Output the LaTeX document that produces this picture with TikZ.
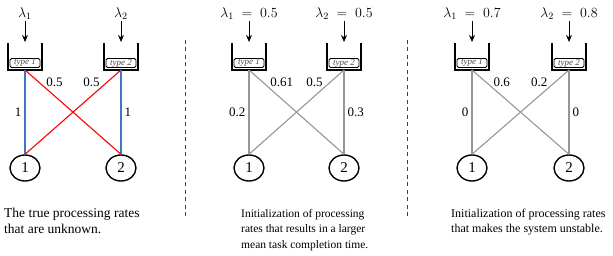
\RequirePackage{fix-cm}
\documentclass[tikz,border=0pt]{standalone}
\usepackage{fontspec}
\setmainfont{Liberation Serif}
\usepackage{amsmath}
\usepackage{tikz}
\usetikzlibrary{arrows.meta,calc,positioning,shapes.geometric}
\definecolor{rateblue}{RGB}{68,114,196}
\definecolor{ratered}{RGB}{255,0,0}
\definecolor{rategray}{RGB}{150,150,150}
\tikzset{
    bucket/.style={line width=1.8pt,draw=black},
    typebox/.style={draw=black,line width=0.8pt,rounded corners=1.5pt,fill=white,minimum width=30pt,minimum height=9pt,inner sep=0pt,font=\fontsize{9}{9}\selectfont\itshape,text=black!70},
    server/.style={ellipse,draw=black,line width=1.4pt,minimum width=30pt,minimum height=26pt,inner sep=0pt,font=\fontsize{15}{15}\selectfont},
    rate/.style={line width=1.1pt},
    ratelbl/.style={font=\fontsize{13}{13}\selectfont,inner sep=1pt,text=black},
    lamlbl/.style={font=\fontsize{14}{14}\selectfont,inner sep=1pt},
    caption/.style={align=left,anchor=north west,inner sep=0pt},
    sep/.style={draw=black!75,line width=1pt,dash pattern=on 4pt off 3.5pt}
}
\begin{document}
\begin{tikzpicture}[x=1pt,y=-1pt]
  \useasboundingbox (0,0) rectangle (613,256);

  % queues, arrivals and servers of the three panels
  \foreach \n/\x/\t/\lam in {a1/25/1/{$\lambda_1$},a2/121/2/{$\lambda_2$},
      b1/249/1/{$\lambda_1 \;=\; 0.5$},b2/344/2/{$\lambda_2 \;=\; 0.5$},
      c1/472/1/{$\lambda_1 \;=\; 0.7$},c2/569/2/{$\lambda_2 \;=\; 0.8$}}{
    \coordinate (Q\n) at (\x,70);
    \draw[bucket] ($(Q\n)+(-17,-27)$) |- ($(Q\n)+(17,0)$) -- ++(0,-27);
    \node[typebox] (T\n) at ($(Q\n)+(0,-7)$) {type \t};
    \node[lamlbl] (L\n) at (\x,14) {\lam};
    \draw[-{Stealth[length=7pt,width=6pt]},line width=1pt] (L\n.south) -- ($(Q\n)+(0,-28)$);
    \node[server] (S\n) at (\x,168) {\t};
  }

  % true rates
  \draw[rate,rateblue] (Qa1) -- node[midway,left=2pt,ratelbl] {1} (Sa1.north);
  \draw[rate,ratered] (Qa1) -- node[pos=0.14,right=6.5pt,ratelbl] {0.5} (Sa2.north);
  \draw[rate,ratered] (Qa2) -- node[pos=0.14,left=6.5pt,ratelbl] {0.5} (Sa1.north);
  \draw[rate,rateblue] (Qa2) -- node[midway,right=2pt,ratelbl] {1} (Sa2.north);

  % larger completion time
  \draw[rate,rategray] (Qb1) -- node[midway,left=2pt,ratelbl] {0.2} (Sb1.north);
  \draw[rate,rategray] (Qb1) -- node[pos=0.14,right=6.5pt,ratelbl] {0.61} (Sb2.north);
  \draw[rate,rategray] (Qb2) -- node[pos=0.14,left=6.5pt,ratelbl] {0.5} (Sb1.north);
  \draw[rate,rategray] (Qb2) -- node[midway,right=2pt,ratelbl] {0.3} (Sb2.north);

  % unstable
  \draw[rate,rategray] (Qc1) -- node[midway,left=2pt,ratelbl] {0} (Sc1.north);
  \draw[rate,rategray] (Qc1) -- node[pos=0.14,right=6.5pt,ratelbl] {0.6} (Sc2.north);
  \draw[rate,rategray] (Qc2) -- node[pos=0.14,left=6.5pt,ratelbl] {0.2} (Sc1.north);
  \draw[rate,rategray] (Qc2) -- node[midway,right=2pt,ratelbl] {0} (Sc2.north);

  \draw[sep] (185,40) -- (185,218);
  \draw[sep] (407,40) -- (407,218);

  \node[caption,font=\fontsize{13.5}{16}\selectfont] (Ca) at (4,207.5) {The true processing rates\\that are unknown.};
  \node[caption,font=\fontsize{11.5}{15.5}\selectfont] (Cb) at (241,209) {Initialization of processing\\rates that results in a larger\\mean task completion time.};
  \node[caption,font=\fontsize{12}{15.5}\selectfont] (Cc) at (451,208.5) {Initialization of processing rates\\that makes the system unstable.};
\end{tikzpicture}
\end{document}
